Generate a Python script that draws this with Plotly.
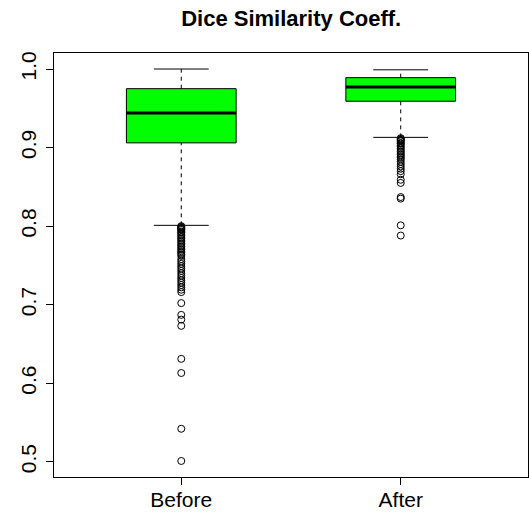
import plotly.graph_objects as go

groups = ["Before", "After"]
positions = [1, 2]
q1 = [0.906, 0.959]
median = [0.944, 0.977]
q3 = [0.975, 0.989]
whisker_low = [0.801, 0.913]
whisker_high = [1.000, 0.999]

outliers_before = [0.800, 0.799, 0.798, 0.797, 0.796, 0.795, 0.793, 0.792, 0.790, 0.788,
                   0.786, 0.784, 0.782, 0.780, 0.778, 0.776, 0.774, 0.772, 0.770, 0.768,
                   0.766, 0.764, 0.762, 0.758, 0.755, 0.752, 0.749, 0.746, 0.743, 0.740,
                   0.737, 0.734, 0.731, 0.728, 0.725, 0.722, 0.719, 0.716,
                   0.702, 0.687, 0.681, 0.673, 0.631, 0.613, 0.542, 0.501]
outliers_after = [0.912, 0.911, 0.910, 0.909, 0.908, 0.906, 0.905, 0.903, 0.901, 0.899,
                  0.897, 0.895, 0.893, 0.891, 0.889, 0.887, 0.885, 0.882, 0.879, 0.876,
                  0.873, 0.870, 0.866, 0.859, 0.855, 0.837, 0.835, 0.801, 0.788]
outliers = [outliers_before, outliers_after]

box_width = 0.5
staple_half = box_width / 4
yticks = [0.5, 0.6, 0.7, 0.8, 0.9, 1.0]
ytick_text = ["0.5", "0.6", "0.7", "0.8", "0.9", "1.0"]

fig = go.Figure()

for i, x in enumerate(positions):
    # dashed whiskers
    fig.add_trace(go.Scatter(x=[x, x], y=[q3[i], whisker_high[i]], mode="lines",
                             line=dict(color="black", width=1, dash="4px,4px")))
    fig.add_trace(go.Scatter(x=[x, x], y=[whisker_low[i], q1[i]], mode="lines",
                             line=dict(color="black", width=1, dash="4px,4px")))
    # staples
    for v in (whisker_low[i], whisker_high[i]):
        fig.add_trace(go.Scatter(x=[x - staple_half, x + staple_half], y=[v, v], mode="lines",
                                 line=dict(color="black", width=1)))
    # box body
    fig.add_trace(go.Box(x=[x], q1=[q1[i]], median=[median[i]], q3=[q3[i]],
                         lowerfence=[q1[i]], upperfence=[q3[i]], width=box_width,
                         fillcolor="#00FF00", line=dict(color="black", width=1),
                         whiskerwidth=0, boxpoints=False, name=groups[i]))
    # thick median
    fig.add_trace(go.Scatter(x=[x - box_width / 2, x + box_width / 2], y=[median[i], median[i]],
                             mode="lines", line=dict(color="black", width=3)))
    # outliers
    fig.add_trace(go.Scatter(x=[x] * len(outliers[i]), y=outliers[i], mode="markers",
                             marker=dict(symbol="circle-open", size=7, color="black",
                                         line=dict(width=1, color="black"))))

fig.update_layout(
    width=529, height=514,
    margin=dict(l=54, r=1, t=53, b=37),
    paper_bgcolor="white", plot_bgcolor="white",
    showlegend=False, hovermode=False,
    font=dict(family="Liberation Sans, Arial, sans-serif", color="black", size=21),
    title=dict(text="<b>Dice Similarity Coeff.</b>", x=0.5505,
               xanchor="center", y=1 - 18 / 514, yanchor="middle", yref="container",
               font=dict(size=22, color="black")),
    xaxis=dict(range=[0.42, 2.58], tickvals=positions, ticktext=groups,
               showgrid=False, zeroline=False, showline=True, mirror=True,
               linecolor="black", linewidth=1, ticks="outside", ticklen=7,
               tickcolor="black", tickfont=dict(size=21), ticklabelstandoff=-3),
    yaxis=dict(range=[0.4806, 1.0204], tickvals=yticks, ticktext=ytick_text,
               showgrid=False, zeroline=False, showline=True, mirror=True,
               linecolor="black", linewidth=1, ticks="outside", ticklen=7,
               tickcolor="black", tickangle=-90, tickfont=dict(size=21),
               ticklabelstandoff=2),
)

fig.write_html("out.html", config={"displayModeBar": False},
               post_script="document.body.style.margin='0';")
